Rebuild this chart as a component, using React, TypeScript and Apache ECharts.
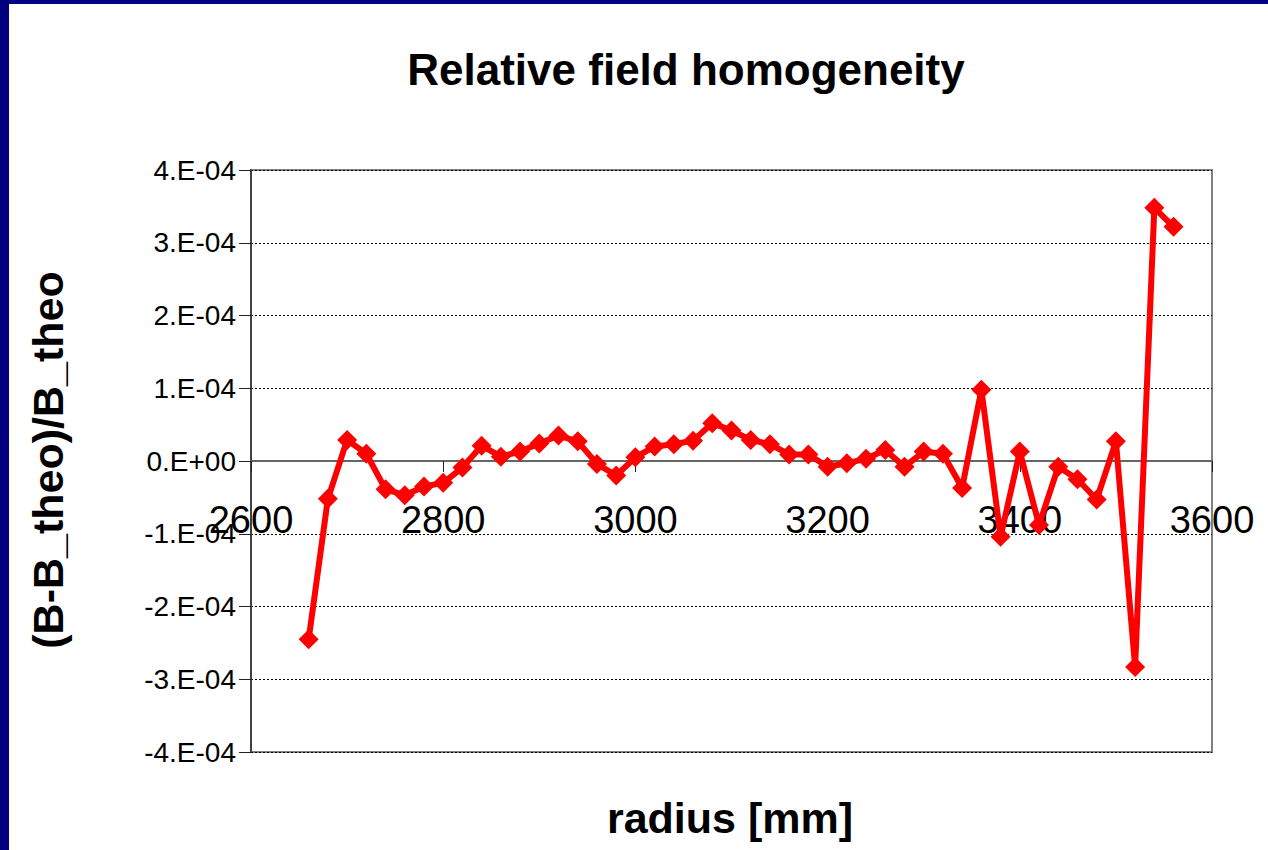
import React, { useEffect, useRef } from "react";
import * as echarts from "echarts";

const radius = [
  2660, 2680, 2700, 2720, 2740, 2760, 2780, 2800, 2820, 2840, 2860, 2880,
  2900, 2920, 2940, 2960, 2980, 3000, 3020, 3040, 3060, 3080, 3100, 3120,
  3140, 3160, 3180, 3200, 3220, 3240, 3260, 3280, 3300, 3320, 3340, 3360,
  3380, 3400, 3420, 3440, 3460, 3480, 3500, 3520, 3540, 3560,
];

const homogeneity = [
  -2.45e-4, -0.52e-4, 0.29e-4, 0.1e-4, -0.39e-4, -0.47e-4, -0.35e-4, -0.3e-4,
  -0.09e-4, 0.21e-4, 0.06e-4, 0.13e-4, 0.24e-4, 0.35e-4, 0.27e-4, -0.04e-4,
  -0.2e-4, 0.05e-4, 0.2e-4, 0.23e-4, 0.28e-4, 0.52e-4, 0.42e-4, 0.29e-4,
  0.23e-4, 0.09e-4, 0.09e-4, -0.08e-4, -0.03e-4, 0.03e-4, 0.15e-4, -0.08e-4,
  0.13e-4, 0.1e-4, -0.37e-4, 0.98e-4, -1.04e-4, 0.13e-4, -0.88e-4, -0.08e-4,
  -0.25e-4, -0.53e-4, 0.27e-4, -2.83e-4, 3.48e-4, 3.22e-4,
];

const yTickLabels = [
  "-4.E-04", "-3.E-04", "-2.E-04", "-1.E-04", "0.E+00",
  "1.E-04", "2.E-04", "3.E-04", "4.E-04",
];

const titleText = "Relative field homogeneity";
const xName = "radius [mm]";
const yName = "(B-B_theo)/B_theo";

const FONT = "'Liberation Sans', Arial, Helvetica, sans-serif";

export default function App() {
  const ref = useRef<HTMLDivElement>(null);

  useEffect(() => {
    if (!ref.current) return;
    const chart = echarts.init(ref.current, null, { renderer: "svg" });
    const data = radius.map((r, i) => [r, homogeneity[i]]);
    chart.setOption({
      animation: false,
      backgroundColor: "#ffffff",
      grid: {
        left: 251,
        top: 170,
        right: 56,
        bottom: 98,
        show: true,
        borderColor: "#808080",
        borderWidth: 2,
        backgroundColor: "transparent",
      },
      graphic: [
        { type: "rect", left: 0, top: 0, shape: { x: 0, y: 0, width: 1268, height: 4 }, style: { fill: "#000080" } },
        { type: "rect", left: 0, top: 0, shape: { x: 0, y: 0, width: 9, height: 850 }, style: { fill: "#000080" } },
        {
          type: "text",
          x: 686,
          y: 69,
          style: {
            text: titleText,
            font: `bold 44px ${FONT}`,
            fill: "#000",
            textAlign: "center",
            textVerticalAlign: "middle",
          },
        },
        {
          type: "text",
          x: 730,
          y: 818,
          style: {
            text: xName,
            font: `bold 43px ${FONT}`,
            fill: "#000",
            textAlign: "center",
            textVerticalAlign: "middle",
          },
        },
        {
          type: "text",
          x: 48,
          y: 460,
          rotation: Math.PI / 2,
          style: {
            text: yName,
            font: `bold 43px ${FONT}`,
            fill: "#000",
            textAlign: "center",
            textVerticalAlign: "middle",
          },
        },
      ],
      xAxis: {
        type: "value",
        min: 2600,
        max: 3600,
        interval: 200,
        axisLine: { show: true, onZero: true, lineStyle: { color: "#666666", width: 2 } },
        axisTick: { show: true, length: 11, lineStyle: { color: "#222", width: 1 } },
        axisLabel: {
          margin: -251,
          color: "#000",
          fontSize: 38,
          fontFamily: FONT,
          showMinLabel: true,
          showMaxLabel: true,
          formatter: (v: number) => String(Math.round(v)),
        },
        splitLine: { show: false },
      },
      yAxis: {
        type: "value",
        min: -4e-4,
        max: 4e-4,
        interval: 1e-4,
        axisLine: { show: true, lineStyle: { color: "#404040", width: 2 } },
        axisTick: { show: true, length: 12, lineStyle: { color: "#222", width: 1 } },
        axisLabel: {
          margin: 15,
          color: "#000",
          fontSize: 28,
          fontFamily: FONT,
          formatter: (v: number) => {
            const idx = Math.round(v / 1e-4) + 4;
            return yTickLabels[idx] ?? "";
          },
        },
        splitLine: { show: true, lineStyle: { color: "#000", width: 1, type: [2, 2] } },
      },
      series: [
        {
          type: "line",
          data,
          lineStyle: { color: "#ff0000", width: 6 },
          itemStyle: { color: "#ff0000" },
          symbol: "diamond",
          symbolSize: 20,
          showSymbol: true,
          z: 5,
        },
      ],
    });
    return () => chart.dispose();
  }, []);

  return (
    <div
      ref={ref}
      style={{ position: "absolute", left: 0, top: 0, width: 1268, height: 850 }}
    />
  );
}
